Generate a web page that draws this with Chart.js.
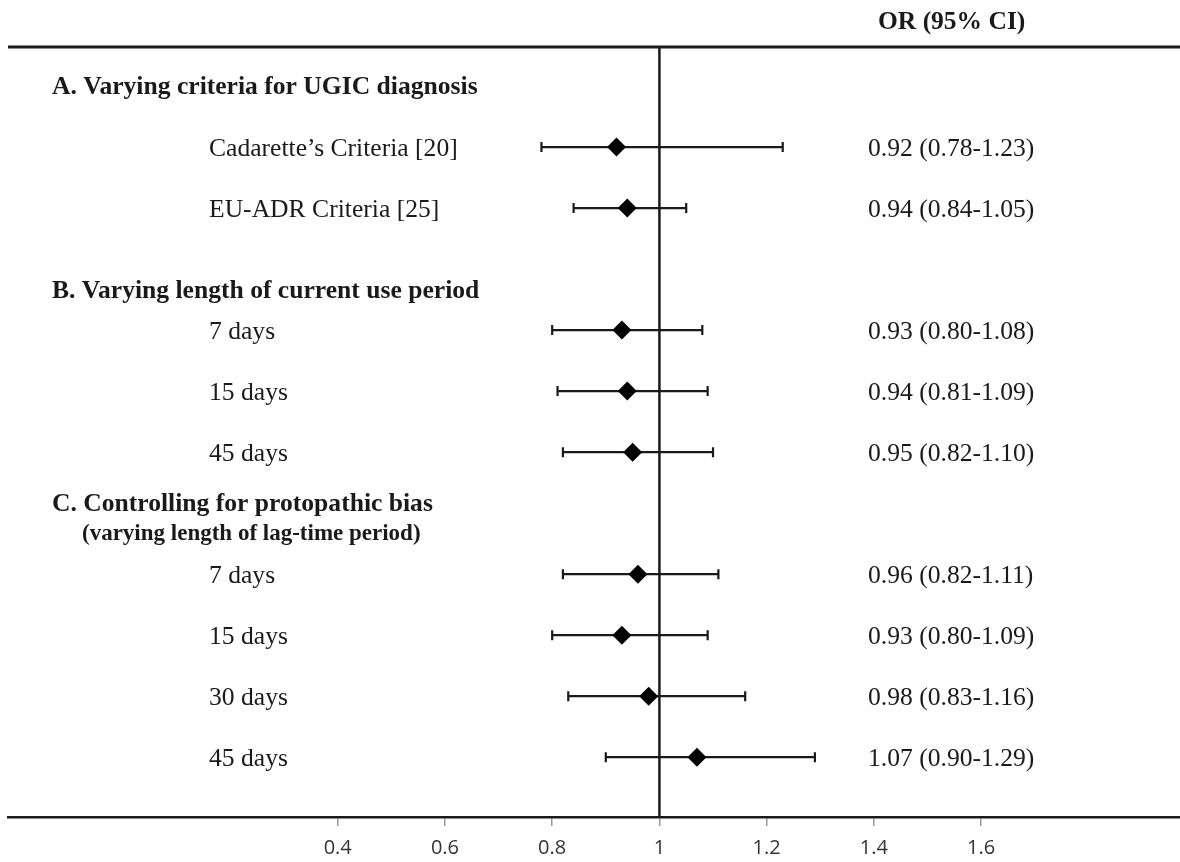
<!DOCTYPE html>
<html>
<head>
<meta charset="utf-8">
<title>Sensitivity analyses - forest plot</title>
<script src="https://cdn.jsdelivr.net/npm/chart.js@4.4.1/dist/chart.umd.min.js"></script>
<style>
  html, body { margin: 0; padding: 0; background: #fff; }
  #wrap { width: 1180px; height: 862px; position: relative; }
</style>
</head>
<body>
<div id="wrap"><canvas id="forest"></canvas></div>
<script>
// Data
const columnTitle = 'OR (95% CI)';
const groupTitles = [
    'A. Varying criteria for UGIC diagnosis',
    'B. Varying length of current use period',
    'C. Controlling for protopathic bias'
];
const groupNote = '(varying length of lag-time period)';
const rowLabels = ['Cadarette\u2019s Criteria [20]', 'EU-ADR Criteria [25]',
    '7 days', '15 days', '45 days',
    '7 days', '15 days', '30 days', '45 days'];
const orValues = [0.92, 0.94, 0.93, 0.94, 0.95, 0.96, 0.93, 0.98, 1.07];
const ciLower  = [0.78, 0.84, 0.80, 0.81, 0.82, 0.82, 0.80, 0.83, 0.90];
const ciUpper  = [1.23, 1.05, 1.08, 1.09, 1.10, 1.11, 1.09, 1.16, 1.29];
const xTicks = [0.4, 0.6, 0.8, 1, 1.2, 1.4, 1.6];

// Layout: which row slot each line sits on (one slot = one row height)
const rowSlots = [1, 2, 4, 5, 6, 8, 9, 10, 11];
const groupSlots = [0, 3.34, 6.84];
const noteSlot = 7.31;

const serif = '"Liberation Serif", "Times New Roman", serif';
const ink = '#1a1a1a';

// Draws reference line, CI whiskers and all the text columns
const forestDecor = {
    id: 'forestDecor',
    beforeDatasetsDraw(chart) {
        const ctx = chart.ctx;
        const x = chart.scales.x, y = chart.scales.y;
        const area = chart.chartArea;
        ctx.save();
        ctx.strokeStyle = ink;

        // line of no effect
        const x1 = x.getPixelForValue(1);
        ctx.lineWidth = 2.5;
        ctx.beginPath();
        ctx.moveTo(x1, area.top);
        ctx.lineTo(x1, area.bottom);
        ctx.stroke();

        // confidence intervals with caps
        ctx.lineWidth = 2.2;
        orValues.forEach(function(v, i) {
            const py = y.getPixelForValue(rowSlots[i]);
            const lo = x.getPixelForValue(ciLower[i]);
            const hi = x.getPixelForValue(ciUpper[i]);
            ctx.beginPath();
            ctx.moveTo(lo, py); ctx.lineTo(hi, py);
            ctx.moveTo(lo, py - 5); ctx.lineTo(lo, py + 5);
            ctx.moveTo(hi, py - 5); ctx.lineTo(hi, py + 5);
            ctx.stroke();
        });
        ctx.restore();
    },
    afterDraw(chart) {
        const ctx = chart.ctx;
        const y = chart.scales.y;
        const area = chart.chartArea;
        ctx.save();

        // top rule
        ctx.strokeStyle = ink;
        ctx.lineWidth = 3;
        ctx.beginPath();
        ctx.moveTo(area.left, area.top);
        ctx.lineTo(area.right, area.top);
        ctx.stroke();

        ctx.fillStyle = ink;
        ctx.textAlign = 'left';
        ctx.textBaseline = 'alphabetic';

        ctx.font = 'bold 25.5px ' + serif;
        ctx.fillText(columnTitle, 878, area.top - 18);
        ctx.font = 'bold 25.6px ' + serif;
        groupTitles.forEach(function(t, i) {
            ctx.fillText(t, 52, y.getPixelForValue(groupSlots[i]) + 8);
        });

        ctx.font = 'bold 23px ' + serif;
        ctx.fillText(groupNote, 82, y.getPixelForValue(noteSlot) + 8);

        ctx.font = '25.6px ' + serif;
        rowLabels.forEach(function(t, i) {
            const py = y.getPixelForValue(rowSlots[i]) + 8.5;
            ctx.fillText(t, 209, py);
            const txt = orValues[i].toFixed(2) + ' (' + ciLower[i].toFixed(2) + '-' + ciUpper[i].toFixed(2) + ')';
            ctx.fillText(txt, 868, py);
        });
        ctx.restore();
    }
};

const points = orValues.map(function(v, i) {
    return { x: v, y: rowSlots[i] };
});

new Chart(document.getElementById('forest'), {
    type: 'scatter',
    data: {
        datasets: [{
            data: points,
            pointStyle: 'rectRot',
            pointRadius: 9.5,
            pointBackgroundColor: '#000',
            pointBorderColor: '#000',
            pointBorderWidth: 0
        }]
    },
    options: {
        responsive: true,
        maintainAspectRatio: false,
        animation: false,
        layout: { autoPadding: false, padding: { left: 8, right: 0, top: 47, bottom: 3 } },
        plugins: {
            legend: { display: false },
            tooltip: { enabled: false }
        },
        scales: {
            x: {
                type: 'linear',
                min: -0.215,
                max: 1.971,
                afterBuildTicks: function(scale) {
                    scale.ticks = xTicks.map(function(v) { return { value: v }; });
                },
                afterFit: function(scale) {
                    // keep the axis flush with the edges and a fixed height
                    scale.paddingLeft = 0;
                    scale.paddingRight = 0;
                    scale.height = 42;
                },
                grid: { drawOnChartArea: false, drawTicks: true, tickLength: 9, color: '#9a9a9a', lineWidth: 1.5 },
                border: { display: true, color: ink, width: 2.5 },
                ticks: {
                    color: '#333',
                    font: { family: '"Open Sans", sans-serif', size: 20 },
                    padding: 10,
                    maxRotation: 0,
                    autoSkip: false,
                    callback: function(v) { return String(v); }
                }
            },
            y: {
                type: 'linear',
                reverse: true,
                min: -0.64,
                max: 11.98,
                display: false
            }
        }
    },
    plugins: [forestDecor]
});
</script>
</body>
</html>
